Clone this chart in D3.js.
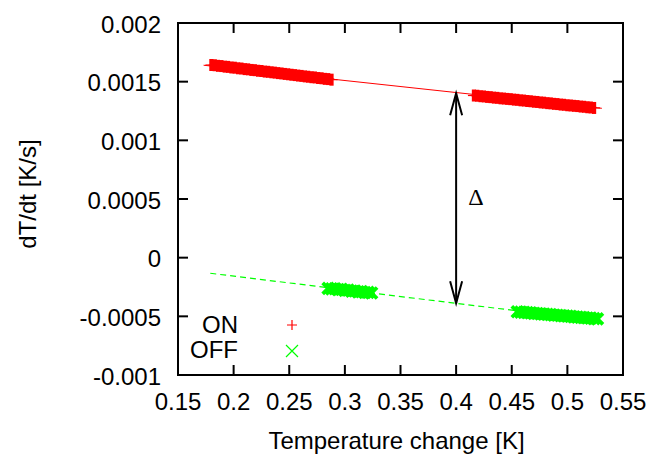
<!DOCTYPE html>
<html>
<head>
<meta charset="utf-8">
<script src="https://cdn.jsdelivr.net/npm/d3@7"></script>
<style>
  body { margin: 0; background: #fff; }
  svg text { font-family: "Liberation Sans", Arial, Helvetica, sans-serif; }
</style>
</head>
<body>
<div id="chart"></div>
<script>
// Heating ON: two measured runs (temperature change [K], dT/dt [K/s])
const onX1 = [0.180, 0.183, 0.186, 0.189, 0.192, 0.195, 0.198, 0.201, 0.204, 0.207, 0.210, 0.213,
  0.216, 0.219, 0.222, 0.225, 0.228, 0.231, 0.234, 0.237, 0.240, 0.243, 0.246, 0.249, 0.252,
  0.255, 0.258, 0.261, 0.264, 0.267, 0.270, 0.273, 0.276, 0.279, 0.282, 0.285, 0.288];
const onY1 = [0.001642, 0.001640, 0.001635, 0.001633, 0.001628, 0.001626, 0.001621, 0.001619,
  0.001614, 0.001612, 0.001607, 0.001605, 0.001600, 0.001598, 0.001593, 0.001591, 0.001586,
  0.001584, 0.001580, 0.001577, 0.001573, 0.001570, 0.001566, 0.001563, 0.001559, 0.001556,
  0.001552, 0.001549, 0.001545, 0.001542, 0.001538, 0.001536, 0.001531, 0.001529, 0.001524,
  0.001522, 0.001517];
const onX2 = [0.416, 0.419, 0.422, 0.425, 0.428, 0.431, 0.434, 0.437, 0.440, 0.443, 0.446, 0.449,
  0.452, 0.455, 0.458, 0.461, 0.464, 0.467, 0.470, 0.473, 0.476, 0.479, 0.482, 0.485, 0.488,
  0.491, 0.494, 0.497, 0.500, 0.503, 0.506, 0.509, 0.512, 0.515, 0.518, 0.521, 0.524];
const onY2 = [0.001382, 0.001380, 0.001376, 0.001374, 0.001370, 0.001368, 0.001364, 0.001362,
  0.001358, 0.001356, 0.001353, 0.001351, 0.001347, 0.001345, 0.001341, 0.001339, 0.001335,
  0.001333, 0.001329, 0.001327, 0.001323, 0.001321, 0.001317, 0.001315, 0.001311, 0.001309,
  0.001305, 0.001303, 0.001299, 0.001297, 0.001294, 0.001292, 0.001288, 0.001286, 0.001282,
  0.001280, 0.001276];

// Heating OFF: two measured runs
const offX1 = [0.285, 0.288, 0.291, 0.294, 0.297, 0.300, 0.303, 0.306, 0.309, 0.312, 0.315,
  0.318, 0.321, 0.324];
const offY1 = [-0.000261, -0.000266, -0.000265, -0.000272, -0.000271, -0.000278, -0.000276,
  -0.000285, -0.000284, -0.000291, -0.000290, -0.000297, -0.000296, -0.000301];
const offX2 = [0.455, 0.458, 0.461, 0.464, 0.467, 0.470, 0.473, 0.476, 0.479, 0.482, 0.485,
  0.488, 0.491, 0.494, 0.497, 0.500, 0.503, 0.506, 0.509, 0.512, 0.515, 0.518, 0.521, 0.524, 0.527];
const offY2 = [-0.000461, -0.000464, -0.000466, -0.000469, -0.000471, -0.000474, -0.000476,
  -0.000479, -0.000481, -0.000484, -0.000486, -0.000489, -0.000491, -0.000494, -0.000496,
  -0.000499, -0.000501, -0.000504, -0.000506, -0.000509, -0.000511, -0.000514, -0.000516,
  -0.000519, -0.000521];

// Linear fits (end points)
const onFitX = [0.173, 0.531];
const onFitY = [0.001640, 0.001273];
const offFitX = [0.179, 0.530];
const offFitY = [-0.000133, -0.000540];

// Delta arrow between the fits at T = 0.4 K
const arrowX = 0.4;
const arrowY = [0.001401, -0.000389];

// Ticks
const xTicks = [0.15, 0.2, 0.25, 0.3, 0.35, 0.4, 0.45, 0.5, 0.55];
const xTickLabels = ["0.15", "0.2", "0.25", "0.3", "0.35", "0.4", "0.45", "0.5", "0.55"];
const yTicks = [-0.001, -0.0005, 0, 0.0005, 0.001, 0.0015, 0.002];
const yTickLabels = ["-0.001", "-0.0005", "0", "0.0005", "0.001", "0.0015", "0.002"];

const width = 654, height = 457;
const plot = { left: 178, right: 623, top: 23, bottom: 375 };
const fontSize = 24;

const x = d3.scaleLinear().domain([0.15, 0.55]).range([plot.left, plot.right]);
const y = d3.scaleLinear().domain([-0.001, 0.002]).range([plot.bottom, plot.top]);

const svg = d3.select("#chart").append("svg")
    .attr("width", width)
    .attr("height", height);

// Fit lines
const fitLine = d3.line().x(d => x(d[0])).y(d => y(d[1]));
svg.append("path")
    .attr("d", fitLine(d3.zip(onFitX, onFitY)))
    .attr("fill", "none")
    .attr("stroke", "#ff0000")
    .attr("stroke-width", 1);
svg.append("path")
    .attr("d", fitLine(d3.zip(offFitX, offFitY)))
    .attr("fill", "none")
    .attr("stroke", "#00ff00")
    .attr("stroke-width", 1.2)
    .attr("stroke-dasharray", "6,4");

// ON points: plus markers
function drawPlus(g, data, thick) {
    const pts = g.selectAll(null).data(data).enter().append("g")
        .attr("transform", d => `translate(${x(d[0])},${y(d[1])})`);
    pts.append("path").attr("d", "M-6,0H6").attr("stroke", "#ff0000").attr("stroke-width", 1.2);
    pts.append("path").attr("d", "M0,-6V6").attr("stroke", "#ff0000").attr("stroke-width", thick);
}
const onG = svg.append("g");
drawPlus(onG, d3.zip(onX1, onY1), 4.2);
drawPlus(onG, d3.zip(onX2, onY2), 4.2);

// OFF points: cross markers
function drawCross(g, data, thick) {
    g.selectAll(null).data(data).enter().append("path")
        .attr("transform", d => `translate(${x(d[0])},${y(d[1])})`)
        .attr("d", "M-5.5,-5.5L5.5,5.5M-5.5,5.5L5.5,-5.5")
        .attr("stroke", "#00ff00")
        .attr("stroke-width", thick);
}
const offG = svg.append("g");
drawCross(offG, d3.zip(offX1, offY1), 3.8);
drawCross(offG, d3.zip(offX2, offY2), 3.8);

// Double headed arrow
const ax = x(arrowX), ay0 = y(arrowY[0]), ay1 = y(arrowY[1]);
svg.append("line")
    .attr("x1", ax).attr("x2", ax).attr("y1", ay0).attr("y2", ay1)
    .attr("stroke", "#000").attr("stroke-width", 2);
svg.append("path")
    .attr("d", `M${ax - 6},${ay0 + 22}L${ax},${ay0}L${ax + 6},${ay0 + 22}` +
               `M${ax - 6},${ay1 - 22}L${ax},${ay1}L${ax + 6},${ay1 - 22}`)
    .attr("fill", "none").attr("stroke", "#000").attr("stroke-width", 2);
svg.append("text")
    .attr("x", ax + 12)
    .attr("y", (ay0 + ay1) / 2 - 2)
    .attr("dy", "0.35em")
    .style("font-family", "'Liberation Serif', 'DejaVu Serif', serif")
    .attr("font-size", 24)
    .text("Δ");

// Ticks (inside, mirrored on all four sides)
const tickLen = 10;
const axes = svg.append("g").attr("stroke", "#000").attr("stroke-width", 2);
xTicks.forEach(t => {
    axes.append("line").attr("x1", x(t)).attr("x2", x(t)).attr("y1", plot.bottom).attr("y2", plot.bottom - tickLen);
    axes.append("line").attr("x1", x(t)).attr("x2", x(t)).attr("y1", plot.top).attr("y2", plot.top + tickLen);
});
yTicks.forEach(t => {
    axes.append("line").attr("x1", plot.left).attr("x2", plot.left + tickLen).attr("y1", y(t)).attr("y2", y(t));
    axes.append("line").attr("x1", plot.right).attr("x2", plot.right - tickLen).attr("y1", y(t)).attr("y2", y(t));
});

// Border
svg.append("rect")
    .attr("x", plot.left).attr("y", plot.top)
    .attr("width", plot.right - plot.left).attr("height", plot.bottom - plot.top)
    .attr("fill", "none").attr("stroke", "#000").attr("stroke-width", 2);

// Tick labels
svg.selectAll(".xlab").data(xTicks).enter().append("text")
    .attr("class", "xlab")
    .attr("x", d => x(d))
    .attr("y", plot.bottom + 35)
    .attr("text-anchor", "middle")
    .attr("font-size", fontSize)
    .text((d, i) => xTickLabels[i]);
svg.selectAll(".ylab").data(yTicks).enter().append("text")
    .attr("class", "ylab")
    .attr("x", plot.left - 17)
    .attr("y", d => y(d) + 9.5)
    .attr("text-anchor", "end")
    .attr("font-size", fontSize)
    .text((d, i) => yTickLabels[i]);

// Axis titles
svg.append("text")
    .attr("x", (plot.left + plot.right) / 2 - 4)
    .attr("y", 449)
    .attr("text-anchor", "middle")
    .attr("font-size", fontSize)
    .text("Temperature change [K]");
svg.append("text")
    .attr("transform", `translate(36,${(plot.top + plot.bottom) / 2 - 5}) rotate(-90)`)
    .attr("text-anchor", "middle")
    .attr("font-size", fontSize)
    .text("dT/dt [K/s]");

// Legend
const legend = svg.append("g");
legend.append("text").attr("x", 238).attr("y", 333).attr("text-anchor", "end")
    .attr("font-size", fontSize).text("ON");
legend.append("path").attr("d", "M287,325H297M292,320V330")
    .attr("stroke", "#ff0000").attr("stroke-width", 1.2);
legend.append("text").attr("x", 238).attr("y", 358).attr("text-anchor", "end")
    .attr("font-size", fontSize).text("OFF");
legend.append("path").attr("d", "M286,345L298,357M286,357L298,345")
    .attr("stroke", "#00ff00").attr("stroke-width", 1.2);
</script>
</body>
</html>
